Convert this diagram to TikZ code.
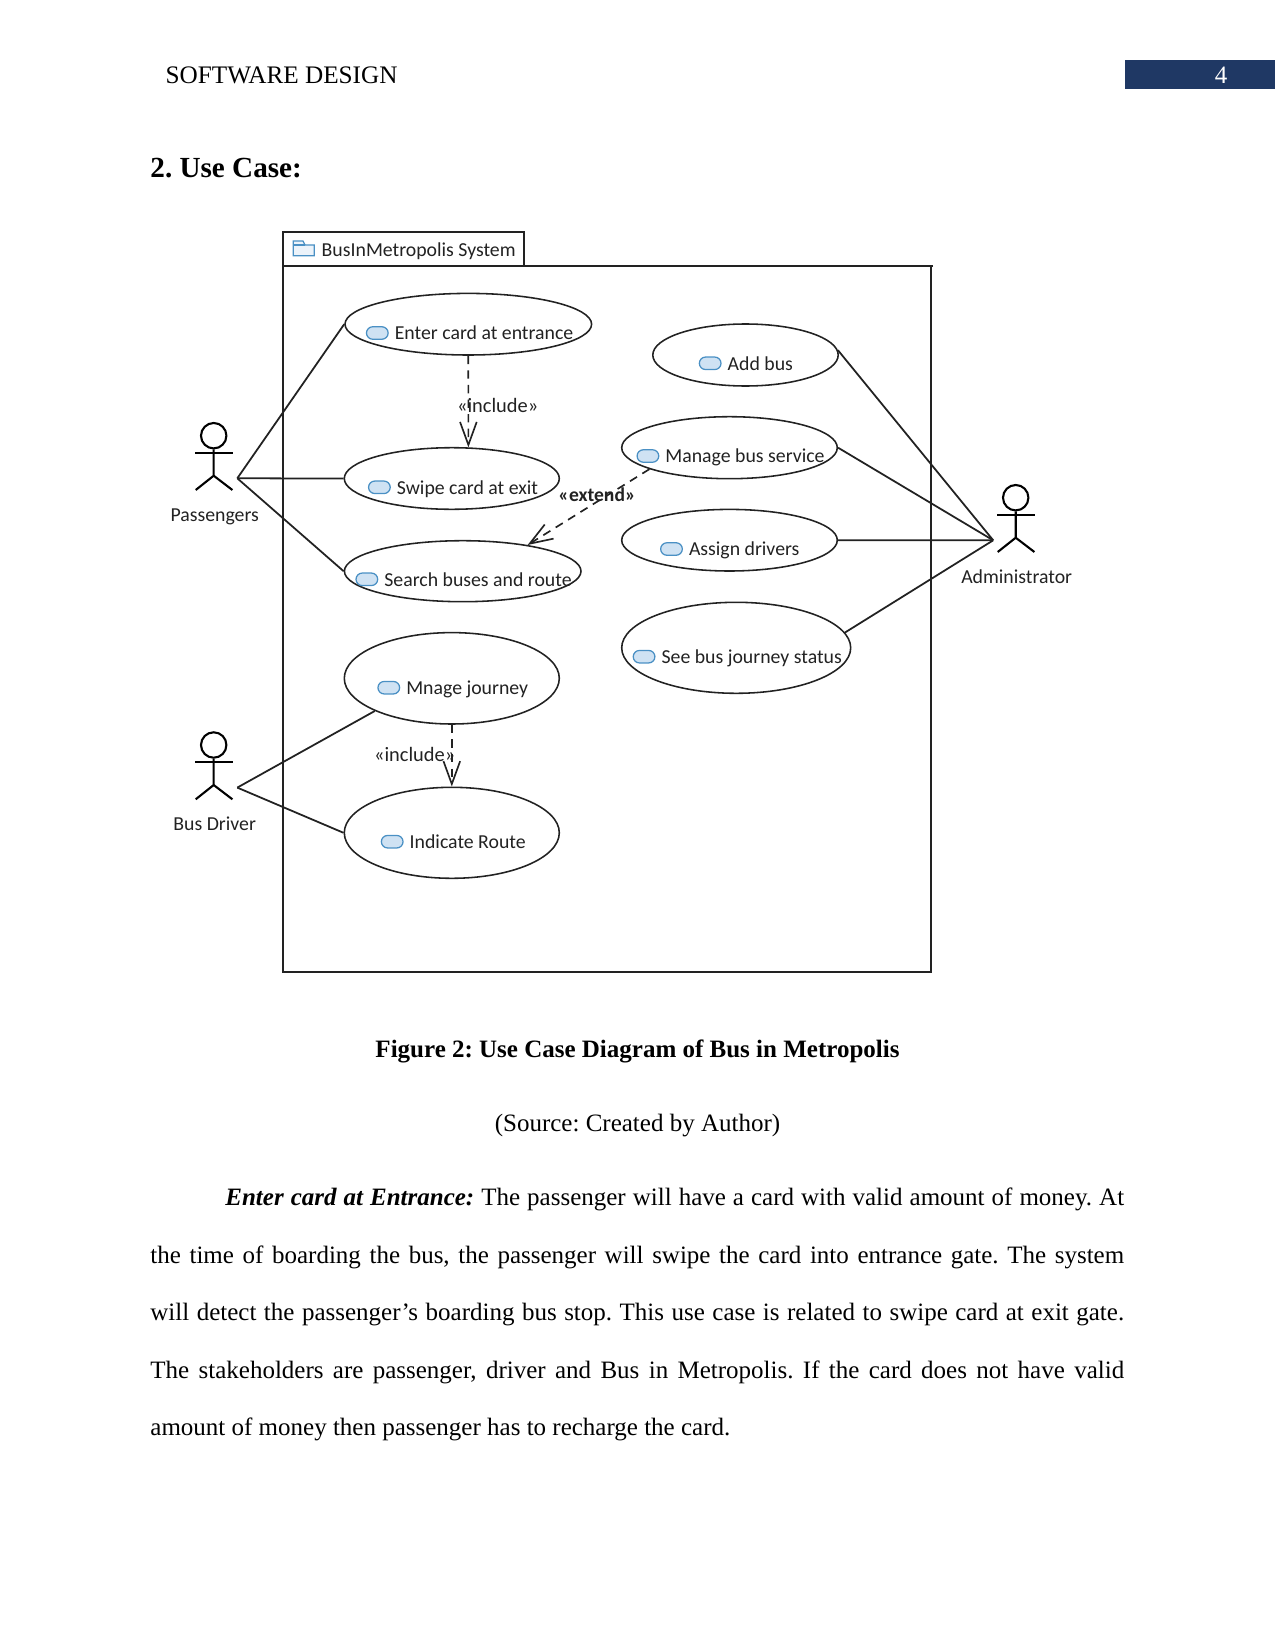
\documentclass[tikz,border=0pt]{standalone}
\usepackage{fontspec}
\setmainfont{Liberation Serif}
\newfontfamily\umlfont{Carlito}
\usetikzlibrary{shapes.geometric}
\usetikzlibrary{shapes.misc}
\usetikzlibrary{positioning}
\usetikzlibrary{arrows.meta}
\definecolor{headerblue}{HTML}{1F3864}
\definecolor{iconfill}{HTML}{CFE2F3}
\definecolor{iconline}{HTML}{4A90C4}
\definecolor{umlink}{HTML}{222222}
\frenchspacing
\tikzset{
  usecase_style/.style = {
    ellipse, draw = umlink, line width = 0.75pt, inner sep = 0pt},
  uml_text/.style = {
    inner sep = 0pt, text = umlink, text height = 8pt, text depth = 1.5pt,
    font = \umlfont\fontsize{9.5}{10}\selectfont},
  icon_style/.style = {
    rounded rectangle, draw = iconline, fill = iconfill, line width = 0.6pt,
    inner sep = 0pt, minimum width = 10.4pt, minimum height = 6pt},
  assoc_style/.style = {draw = umlink, line width = 0.85pt},
  depend_style/.style = {
    draw = umlink, line width = 0.8pt, dash pattern = on 4pt off 3pt,
    -{Straight Barb[length = 11pt, width = 8pt]}}
}

\begin{document}
\begin{tikzpicture}[x=0.48pt,y=-0.48pt]
\useasboundingbox (0,0) rectangle (1275,1651);

% page header
\fill[headerblue] (1125,60) rectangle (1275,89.3);
\node[white,font=\fontsize{12}{14}\selectfont] (pagenum) at (1221,75) {4};
\node[anchor=west,inner sep=0pt,font=\fontsize{12.1}{14}\selectfont] (header) at (165.3,75) {SOFTWARE DESIGN};
\node[anchor=west,inner sep=0pt,font=\bfseries\fontsize{14}{16}\selectfont] (heading) at (150,168.5) {2. Use Case:};

% system boundary and its tab
\draw[draw=umlink,line width=0.8pt] (283.3,265.7) -- (283.3,232) -- (524,232) -- (524,265.7);
\draw[draw=umlink,line width=0.8pt] (933,265.7) -- (283.3,265.7) -- (283.3,972) -- (931,972) -- (931,265.7);
\node[uml_text] (systemname) at (418.7,249.3) {BusInMetropolis System};
\draw[iconline,fill=iconfill!40,line width=0.6pt] (293.3,255.7) -- (293.3,241) -- (303,241) -- (305,245) -- (314.3,245) -- (314.3,255.7) -- cycle;
\draw[iconline,line width=0.6pt] (293.3,245) -- (305,245);

% use cases: name/centre/half axes/label centre/label
\foreach \n/\x/\y/\a/\b/\lx/\ly/\t in {
  enter/468.3/324.2/123.3/30.8/484/333/Enter card at entrance,
  swipe/451.8/478.5/107.5/30.8/467.5/487.3/Swipe card at exit,
  search/462.7/571.2/118.3/30.5/478/579.3/Search buses and route,
  addbus/745.5/355/92.7/31/760.3/363.3/Add bus,
  manage/729.5/447.7/107.8/31/745/456/Manage bus service,
  assign/729.5/540.2/107.8/30.8/744.2/549/Assign drivers,
  status/736.2/647.8/114.5/45.5/751.7/656.7/See bus journey status,
  journey/451.8/678.3/107.5/45.7/467.2/687.7/Mnage journey,
  route/451.8/832.8/107.5/45.5/467.7/841.7/Indicate Route}{
 \node[usecase_style,minimum width=\a*0.96pt,minimum height=\b*0.96pt] (\n) at (\x,\y) {};
 \node[uml_text] (\n_label) at (\lx,\ly) {\t};
 \node[icon_style,left=2.7pt of \n_label] (\n_icon) {};
}

% actors: name/head/hand offset/label
\foreach \n/\x/\y/\h/\t in {
  passengers/213.7/435.7/23.6/Passengers,
  driver/213.7/745/23.6/Bus Driver,
  admin/1015.7/497.7/-22.5/Administrator}{
 \node[circle,draw=black,line width=1pt,inner sep=0pt,minimum size=12.2pt] (\n) at (\x,\y) {};
 \draw[black,line width=1pt] (\n.south) -- (\x,\y+40) -- (\x-18,\y+54.3);
 \draw[black,line width=1pt] (\x,\y+40) -- (\x+18.7,\y+54.3);
 \draw[black,line width=1pt] (\x-18.7,\y+17) -- (\x+19,\y+17);
 \coordinate (\n_hand) at (\x+\h,\y+42.6);
 \node[uml_text] (\n_label) at (\x+1,\y+79) {\t};
}

% associations
\draw[assoc_style] (passengers_hand) -- (enter.west);
\draw[assoc_style] (passengers_hand) -- (swipe.west);
\draw[assoc_style] (passengers_hand) -- (search.west);
\draw[assoc_style] (driver_hand) -- (journey.203);
\draw[assoc_style] (driver_hand) -- (route.west);
\draw[assoc_style] (admin_hand) -- (addbus.3.5);
\draw[assoc_style] (admin_hand) -- (manage.east);
\draw[assoc_style] (admin_hand) -- (assign.east);
\draw[assoc_style] (admin_hand) -- (status.8.4);

% include and extend
\draw[depend_style] (enter.south) -- (swipe.62);
\draw[depend_style] (manage.195.8) -- (search.22.5);
\draw[depend_style] (journey.south) -- (route.north);
\node[uml_text,font=\umlfont\fontsize{9.8}{10}\selectfont] (include_a) at (497.7,405.7) {«include»};
\node[uml_text,font=\umlfont\bfseries\fontsize{9.4}{10}\selectfont] (extend_a) at (597,494.3) {«extend»};
\node[uml_text,font=\umlfont\fontsize{9.8}{10}\selectfont] (include_b) at (414.7,754.3) {«include»};

% caption and body text
\node[font=\bfseries\fontsize{12}{14}\selectfont] (caption) at (637.5,1051.6) {Figure 2: Use Case Diagram of Bus in Metropolis};
\node[font=\fontsize{12}{14}\selectfont] (source) at (637.5,1125.7) {(Source: Created by Author)};
\node[anchor=north west,inner sep=0pt,text width=467.4pt,align=justify,font=\fontsize{12}{27.6}\selectfont] (body) at (150,1187.5) {%
\hspace*{36pt}\textbf{\textit{Enter card at Entrance:}} The passenger will have a card with valid amount of money. At\linebreak
the time of boarding the bus, the passenger will swipe the card into entrance gate. The system\linebreak
will detect the passenger’s boarding bus stop. This use case is related to swipe card at exit gate.\linebreak
The stakeholders are passenger, driver and Bus in Metropolis. If the card does not have valid\linebreak
amount of money then passenger has to recharge the card.};
\end{tikzpicture}
\end{document}
